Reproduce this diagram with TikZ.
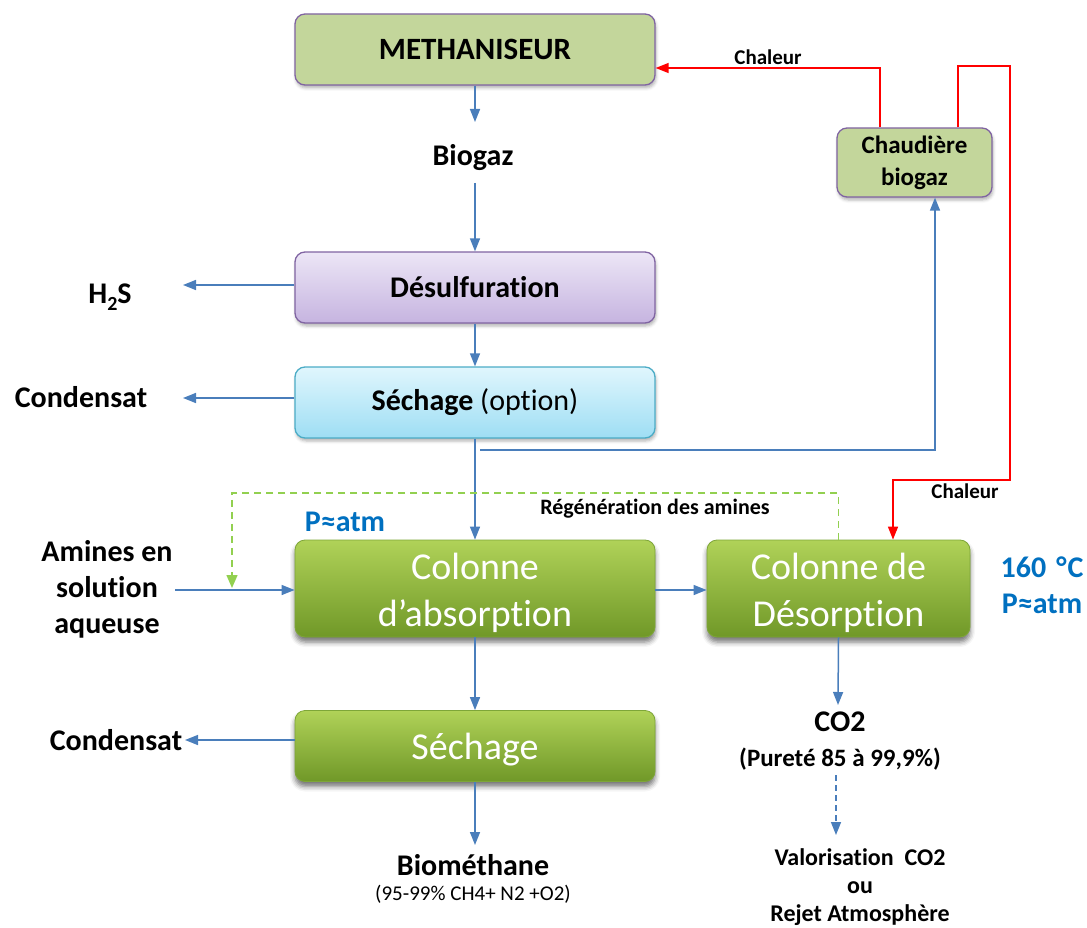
\documentclass[tikz,border=0pt]{standalone}
\usepackage{fontspec}
\setmainfont{Carlito}[Ligatures={NoCommon}]
\usetikzlibrary{arrows.meta,shadows.blur}
\definecolor{flow}{RGB}{74,126,187}
\definecolor{heat}{RGB}{255,0,0}
\definecolor{regen}{RGB}{146,208,80}
\definecolor{olive}{RGB}{195,214,155}
\definecolor{purpleedge}{RGB}{128,100,162}
\definecolor{lavtop}{RGB}{236,230,246}
\definecolor{lavbot}{RGB}{198,180,224}
\definecolor{cyantop}{RGB}{224,246,253}
\definecolor{cyanbot}{RGB}{158,222,244}
\definecolor{cyanedge}{RGB}{75,172,198}
\definecolor{gtop}{RGB}{176,210,88}
\definecolor{gmid}{RGB}{150,190,64}
\definecolor{gbot}{RGB}{112,152,40}
\definecolor{gedge}{RGB}{126,166,56}
\definecolor{note}{RGB}{0,112,192}
\newcommand\fsz[2]{\fontsize{#1}{#2}\selectfont}
% lower a line of text without changing the box it occupies
\newcommand\low[1]{\raisebox{-4pt}[\height][\depth]{#1}}
\begin{document}
\begin{tikzpicture}[x=1pt,y=-1pt,
  box/.style={rounded corners=10pt, minimum width=360pt, minimum height=71pt,
    line width=1.3pt, inner sep=0pt, align=center},
  plainbox/.style={box, draw=purpleedge, fill=olive,
    blur shadow={shadow xshift=1pt,shadow yshift=-3pt,shadow opacity=30,shadow blur radius=3pt}},
  lavbox/.style={box, draw=purpleedge, top color=lavtop, bottom color=lavbot,
    blur shadow={shadow xshift=1pt,shadow yshift=-3pt,shadow opacity=30,shadow blur radius=3pt}},
  cyanbox/.style={box, draw=cyanedge, top color=cyantop, bottom color=cyanbot,
    blur shadow={shadow xshift=1pt,shadow yshift=-3pt,shadow opacity=30,shadow blur radius=3pt}},
  colbox/.style={box, draw=gedge, line width=0.8pt, top color=gtop, middle color=gmid, bottom color=gbot,
    text=white, font=\fsz{38}{47},
    blur shadow={shadow xshift=0pt,shadow yshift=-5pt,shadow opacity=55,shadow blur radius=5pt}},
  lbl/.style={inner sep=0pt, align=center, font=\bfseries\fsz{30}{36}},
  flowline/.style={draw=flow, line width=1.5pt},
  flowarrow/.style={flowline, -{Triangle[length=13pt,width=10pt]}},
  heatarrow/.style={draw=heat, line width=1.5pt, -{Triangle[length=13pt,width=10pt]}},
  regenarrow/.style={draw=regen, line width=1.5pt, dash pattern=on 7pt off 5pt,
    -{Triangle[length=13pt,width=11pt]}},
]
\useasboundingbox (0,0) rectangle (1087,928);

% ---- process units ----
\node[plainbox, font=\bfseries\fsz{31}{36}] (meth) at (475,49.5) {METHANISEUR};
\node[lavbox, font=\bfseries\fsz{30}{36}] (desulf) at (475,287.5) {Désulfuration};
\node[cyanbox, font=\fsz{30}{36}] (sech1) at (475,402.5) {\textbf{Séchage} (option)};
\node[plainbox, minimum width=155pt, minimum height=69pt, font=\bfseries\fsz{25}{32}]
  (chaud) at (914.5,162.5) {Chaudière\\biogaz};
\node[colbox, minimum height=97pt] (absorb) at (475,588.5) {\low{Colonne}\\\low{d’absorption}};
\node[colbox, minimum width=263pt, minimum height=97pt] (desorb) at (838.5,588.5) {\low{Colonne de}\\\low{Désorption}};
\node[colbox] (sech2) at (475,746) {\low{Séchage}};

% ---- stream labels ----
\node[lbl] (biogaz) at (473,158) {Biogaz};
\node[lbl] (h2s) at (110,297) {H\raisebox{-0.22em}{\fsz{20}{20}2}S};
\node[lbl] (cond1) at (81,397) {Condensat};
\node[lbl] (amines) at (107,589) {Amines en\\solution\\aqueuse};
\node[lbl] (cond2) at (116,740) {Condensat};
\node[lbl] (biomet) at (473,865) {Biométhane};
\node[inner sep=0pt, font=\fsz{21}{24}] (biocomp) at (473,894) {(95-99\% CH4+ N2 +O2)};
\node[lbl] (co2) at (840,722) {CO2};
\node[lbl, font=\bfseries\fsz{25}{30}] (purete) at (840,759) {(Pureté 85 à 99,9\%)};
\node[lbl, font=\bfseries\fsz{24}{28}] (valor) at (860,887) {Valorisation\ \ CO2\\ou\\Rejet Atmosphère};
\node[lbl, font=\bfseries\fsz{21}{24}] (chal1) at (768,57) {Chaleur};
\node[lbl, font=\bfseries\fsz{21}{24}] (chal2) at (965,491) {Chaleur};
\node[lbl, font=\bfseries\fsz{22}{26}] (regenlbl) at (655,509) {Régénération des amines};
\node[lbl, text=note] (patm) at (345,522) {P≈atm};
\node[lbl, text=note] (cond) at (1042,585) {160\,\,°\kern1ptC\\P≈atm};

% ---- free ends of connectors ----
\coordinate (biogazin) at (475,122);
\coordinate (biogazout) at (475,183);
\coordinate (h2sin) at (183,285);
\coordinate (cond1in) at (183,398);
\coordinate (aminesout) at (175,590);
\coordinate (cond2in) at (185,740);
\coordinate (biometin) at (475,845);
\coordinate (co2in) at (838,705);
\coordinate (co2out) at (836,775);
\coordinate (valorin) at (836,835);
\coordinate (tap) at (480,450);
\coordinate (hc1) at (1010,66);
\coordinate (hc2) at (1010,480);
\coordinate (rg1) at (232,493);
\coordinate (rg2) at (232,588);

% ---- main gas line ----
\draw[flowarrow] (meth.south) -- (biogazin);
\draw[flowarrow] (biogazout) -- (desulf.north);
\draw[flowarrow] (desulf.south) -- (sech1.north);
\draw[flowarrow] (sech1.south) -- (absorb.north);
\draw[flowarrow] (absorb.south) -- (sech2.north);
\draw[flowarrow] (sech2.south) -- (biometin);

% ---- side streams ----
\draw[flowarrow] ([yshift=2.5pt]desulf.west) -- (h2sin);
\draw[flowarrow] ([yshift=4.5pt]sech1.west) -- (cond1in);
\draw[flowarrow] ([yshift=6pt]sech2.west) -- (cond2in);
\draw[flowarrow] (aminesout) -- ([yshift=-1.5pt]absorb.west);
\draw[flowarrow] ([yshift=-1.5pt]absorb.east) -- ([yshift=-1.5pt]desorb.west);
\draw[flowarrow] (desorb.south) -- (co2in);
\draw[flowarrow, dash pattern=on 6pt off 4pt] (co2out) -- (valorin);

% ---- biogas to boiler ----
\draw[flowarrow] (tap) -| ([xshift=20.5pt]chaud.south);

% ---- heat supply ----
\draw[heatarrow] ([xshift=-34.5pt]chaud.north) |- ([yshift=-18.5pt]meth.east);
\draw[heatarrow] ([xshift=43.5pt]chaud.north) |- (hc1) -- (hc2) -| ([xshift=54.5pt]desorb.north);

% ---- amine regeneration loop ----
\draw[regenarrow] (desorb.north) |- (rg1) -- (rg2);
\end{tikzpicture}
\end{document}
